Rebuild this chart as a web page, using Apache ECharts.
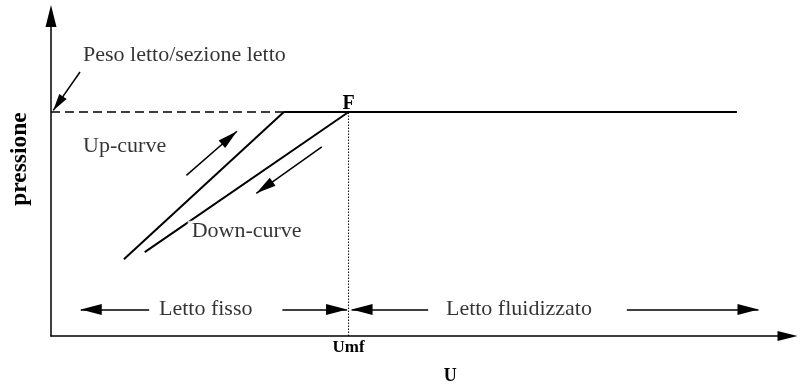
<!DOCTYPE html>
<html>
<head>
<meta charset="utf-8">
<script src="https://cdn.jsdelivr.net/npm/echarts@6/dist/echarts.min.js"></script>
<style>
  html, body { margin: 0; padding: 0; background: #fff; }
  #chart { width: 800px; height: 390px; }
</style>
</head>
<body>
<div id="chart"></div>
<script>
// Fluidised-bed pressure drop vs. gas velocity (schematic, arbitrary units)
const xMax = 99;
const yMax = 100;
const umf = 40;          // minimum fluidisation velocity
const bedPressure = 70;  // bed weight / bed cross-section

// fixed-bed branches
const upCurve = [[9.8, 24], [31.3, 70]];
const downCurve = [[12.6, 26.2], [umf, bedPressure]];
// plateau and reference lines
const plateau = [[31.3, bedPressure], [92.2, bedPressure]];
const weightLine = [[0, bedPressure], [31.3, bedPressure]];
const umfLine = [[umf, 0], [umf, bedPressure]];

// annotation arrows: [from, to]
const arrowFrom = [[18.2, 50.2], [36.4, 59.1], [3.9, 82.5], [13.2, 8.3], [31.1, 8.3], [50.7, 8.3], [77.4, 8.3]];
const arrowTo   = [[25.0, 64.0], [27.6, 44.6], [0.3, 70.5], [4.0, 8.3], [39.8, 8.3], [40.4, 8.3], [95.1, 8.3]];
const arrowSize = [[10, 20], [10, 20], [9, 17], [11, 21], [11, 21], [11, 21], [11, 21]];

// text annotations
const noteText = ['Up-curve', 'Down-curve', 'Letto fisso', 'Letto fluidizzato'];
const noteX = [9.9, 26.3, 20.8, 62.9];
const noteY = [59.4, 32.6, 8.3, 8.3];
const weightNote = 'Peso letto/sezione letto';
const weightNoteAt = [4.3, 87.6];

const serif = "'Liberation Serif', 'Times New Roman', serif";
// filled triangle, tip at the top
const tri = 'path://M5,0 L10,20 L0,20 Z';
// same triangle in the lower half of a doubled box, so its tip sits on the symbol centre
const triTip = 'path://M5,0 L5,0 M5,20 L10,40 L0,40 Z';
const black = '#000';

function lineSeries(data, style) {
  return {
    type: 'line', data: data, symbol: 'none', silent: true,
    lineStyle: Object.assign({ color: black, width: 2 }, style || {}),
    z: 3
  };
}

const arrowSeries = arrowFrom.map((f, i) => {
  const s = [arrowSize[i][0], arrowSize[i][1] * 2];
  return {
    type: 'lines',
    coordinateSystem: 'cartesian2d',
    symbol: ['none', triTip],
    symbolSize: [s, s],
    lineStyle: { color: black, width: 1.5, opacity: 1 },
    itemStyle: { color: black },
    data: [{ coords: [f, arrowTo[i]] }],
    silent: true,
    z: 4
  };
});

const chart = echarts.init(document.getElementById('chart'), null, { renderer: 'canvas' });
chart.setOption({
  animation: false,
  backgroundColor: '#fff',
  textStyle: { fontFamily: serif, color: black },
  grid: { left: 50, right: 12.5, top: 16, bottom: 49, containLabel: false },
  xAxis: {
    type: 'value', min: 0, max: xMax,
    name: 'U', nameLocation: 'middle', nameGap: 31,
    nameTextStyle: { fontFamily: serif, fontWeight: 'bold', fontSize: 18, color: black, padding: [0, 0, 0, 62] },
    axisLine: { show: true, onZero: false, symbol: ['none', tri], symbolSize: [11, 20], lineStyle: { color: black, width: 1.5 } },
    axisTick: { show: false },
    splitLine: { show: false },
    axisLabel: {
      customValues: [umf], formatter: () => 'Umf', margin: 3,
      fontFamily: serif, fontWeight: 'bold', fontSize: 17, color: black
    }
  },
  yAxis: {
    type: 'value', min: 0, max: yMax,
    name: 'pressione', nameLocation: 'middle', nameRotate: 90, nameGap: 19,
    nameTextStyle: { fontFamily: serif, fontWeight: 'bold', fontSize: 23.5, color: black, padding: [0, 0, 0, 34] },
    axisLine: { show: true, onZero: false, symbol: ['none', tri], symbolSize: [11, 22], lineStyle: { color: black, width: 1.5 } },
    axisTick: { show: false },
    splitLine: { show: false },
    axisLabel: { show: false }
  },
  series: [
    lineSeries(weightLine, { width: 1.5, type: [9, 5] }),
    lineSeries(plateau),
    lineSeries(upCurve),
    Object.assign(lineSeries(downCurve), {
      label: {
        show: true, position: 'top', distance: -2,
        formatter: p => (p.dataIndex === 1 ? 'F' : ''),
        fontFamily: serif, fontWeight: 'bold', fontSize: 20, color: black
      },
      showSymbol: true, symbol: 'circle', symbolSize: 0
    }),
    lineSeries(umfLine, { width: 1, type: [1.5, 1.5] }),
    ...arrowSeries,
    {
      type: 'scatter', symbolSize: 0, silent: true, z: 5,
      data: noteText.map((t, i) => [noteX[i], noteY[i], t]),
      label: {
        show: true, position: 'inside', formatter: p => p.value[2],
        fontFamily: serif, fontSize: 22, color: black, backgroundColor: '#fff', padding: [0, 4]
      }
    },
    {
      type: 'scatter', symbolSize: 0, silent: true, z: 5,
      data: [[weightNoteAt[0], weightNoteAt[1], weightNote]],
      label: {
        show: true, position: 'right', distance: 0, formatter: p => p.value[2],
        fontFamily: serif, fontSize: 22, color: black
      }
    }
  ]
});
</script>
</body>
</html>
